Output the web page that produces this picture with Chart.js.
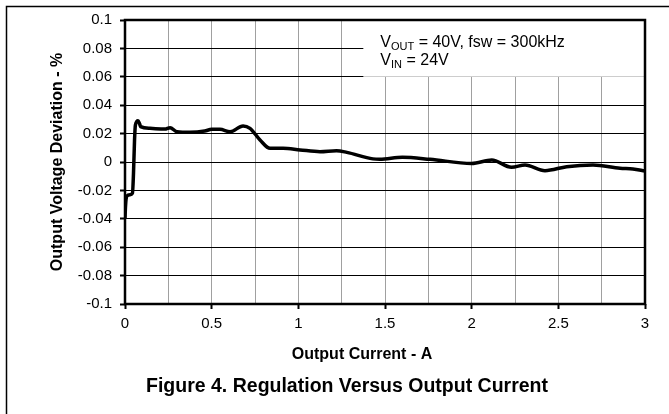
<!DOCTYPE html>
<html>
<head>
<meta charset="utf-8">
<script src="https://cdn.jsdelivr.net/npm/chart.js@4"></script>
<style>
  html, body { margin: 0; padding: 0; background: #fff; }
  #wrap { width: 669px; height: 414px; position: relative; }
</style>
</head>
<body>
<div id="wrap"><canvas id="c" width="669" height="414"></canvas></div>
<script>
// ---- data ----
const currentA = [0, 0.003, 0.011, 0.029, 0.043, 0.049, 0.055, 0.06, 0.075, 0.084, 0.09, 0.144, 0.23, 0.26, 0.30, 0.375, 0.46, 0.5, 0.548, 0.606, 0.681, 0.721, 0.779, 0.837, 0.912, 1.01, 1.125, 1.22, 1.28, 1.43, 1.47, 1.60, 1.76, 2.0, 2.116, 2.23, 2.308, 2.423, 2.548, 2.70, 2.856, 2.93, 3.0];
const deviationPct = [-0.040, -0.031, -0.024, -0.023, -0.022, -0.008, 0.0155, 0.026, 0.029, 0.027, 0.0249, 0.0237, 0.0232, 0.0242, 0.0213, 0.0209, 0.0218, 0.023, 0.023, 0.0213, 0.0254, 0.0237, 0.0155, 0.0096, 0.0096, 0.0085, 0.0073, 0.008, 0.0068, 0.0022, 0.0019, 0.0033, 0.0019, -0.001, 0.0014, -0.0037, -0.0021, -0.0061, -0.0033, -0.0021, -0.0044, -0.0049, -0.0063];
const xTickLabels = ['0', '', '0.5', '', '1', '', '1.5', '', '2', '', '2.5', '', '3'];
const yTickLabels = ['-0.1', '-0.08', '-0.06', '-0.04', '-0.02', '0', '0.02', '0.04', '0.06', '0.08', '0.1'];
const xTitle = 'Output Current - A';
const yTitle = 'Output Voltage Deviation - %';
const figTitle = 'Figure 4. Regulation Versus Output Current';

const FONT = 'Arial, "Liberation Sans", sans-serif';
const points = currentA.map((x, i) => ({ x: x, y: deviationPct[i] }));

const decor = {
  id: 'decor',
  beforeDatasetsDraw(chart) {
    const { ctx, chartArea: a, scales } = chart;
    const x = scales.x, y = scales.y;
    // white annotation box over the grid
    const bx = x.getPixelForValue(1.375);
    const by = y.getPixelForValue(0.06);
    ctx.save();
    ctx.fillStyle = '#fff';
    ctx.fillRect(bx, a.top, a.right - bx, by - a.top);
    ctx.fillStyle = '#000';
    ctx.textBaseline = 'alphabetic';
    ctx.textAlign = 'left';
    // line 1
    let tx = bx + 17, ty = a.top + 26.5;
    ctx.font = '16px ' + FONT;
    ctx.fillText('V', tx, ty);
    tx += ctx.measureText('V').width;
    ctx.font = '11px ' + FONT;
    ctx.fillText('OUT', tx, ty + 3);
    tx += ctx.measureText('OUT').width;
    ctx.font = '16px ' + FONT;
    ctx.fillText(' = 40V, fsw = 300kHz', tx, ty);
    // line 2
    tx = bx + 17; ty = a.top + 45;
    ctx.fillText('V', tx, ty);
    tx += ctx.measureText('V').width;
    ctx.font = '11px ' + FONT;
    ctx.fillText('IN', tx, ty + 3);
    tx += ctx.measureText('IN').width;
    ctx.font = '16px ' + FONT;
    ctx.fillText(' = 24V', tx, ty);
    ctx.restore();
  },
  afterDatasetsDraw(chart) {
    const { ctx, chartArea: a } = chart;
    ctx.save();
    // plot frame
    ctx.strokeStyle = '#000';
    ctx.lineWidth = 2.5;
    ctx.strokeRect(a.left, a.top, a.right - a.left, a.bottom - a.top);
    // outer figure frame (top and left)
    ctx.lineWidth = 1.5;
    ctx.beginPath();
    ctx.moveTo(6.5, 414);
    ctx.lineTo(6.5, 6.5);
    ctx.lineTo(669, 6.5);
    ctx.stroke();
    // titles
    ctx.fillStyle = '#000';
    ctx.textAlign = 'center';
    ctx.textBaseline = 'middle';
    ctx.font = 'bold 16px ' + FONT;
    ctx.fillText(xTitle, 362, 355);
    ctx.font = 'bold 19.5px ' + FONT;
    ctx.fillText(figTitle, 347, 387);
    ctx.translate(58, (a.top + a.bottom) / 2);
    ctx.rotate(-Math.PI / 2);
    ctx.font = 'bold 16px ' + FONT;
    ctx.fillText(yTitle, 0, 0);
    ctx.restore();
  }
};

new Chart(document.getElementById('c'), {
  type: 'line',
  data: {
    datasets: [{
      data: points,
      borderColor: '#000',
      borderWidth: 3.5,
      pointRadius: 0,
      fill: false,
      cubicInterpolationMode: 'monotone'
    }]
  },
  options: {
    responsive: false,
    animation: false,
    devicePixelRatio: 1,
    layout: { padding: { left: 0, right: 24, top: 20, bottom: 0 } },
    plugins: { legend: { display: false }, tooltip: { enabled: false }, title: { display: false } },
    scales: {
      x: {
        type: 'linear',
        min: 0, max: 3,
        afterFit(s) { s.height = 110; },
        afterBuildTicks(s) { s.ticks = xTickLabels.map((_, i) => ({ value: i * 0.25 })); },
        ticks: {
          autoSkip: false,
          maxRotation: 0,
          padding: 6,
          color: '#000',
          font: { family: FONT, size: 15 },
          callback: (v, i) => xTickLabels[i]
        },
        grid: {
          color: '#a0a0a0',
          lineWidth: 1,
          tickLength: 5,
          tickColor: (c) => (c.index % 2 === 0 ? '#000' : 'rgba(0,0,0,0)'),
          tickWidth: 2
        },
        border: { display: false }
      },
      y: {
        min: -0.1, max: 0.1,
        afterFit(s) { s.width = 125; },
        afterBuildTicks(s) { s.ticks = yTickLabels.map((_, i) => ({ value: -0.1 + i * 0.02 })); },
        ticks: {
          autoSkip: false,
          padding: 8,
          color: '#000',
          font: { family: FONT, size: 15 },
          callback: (v, i) => yTickLabels[i]
        },
        grid: {
          color: '#000',
          lineWidth: 1,
          tickLength: 5,
          tickColor: '#000',
          tickWidth: 2
        },
        border: { display: false }
      }
    }
  },
  plugins: [decor]
});
</script>
</body>
</html>
